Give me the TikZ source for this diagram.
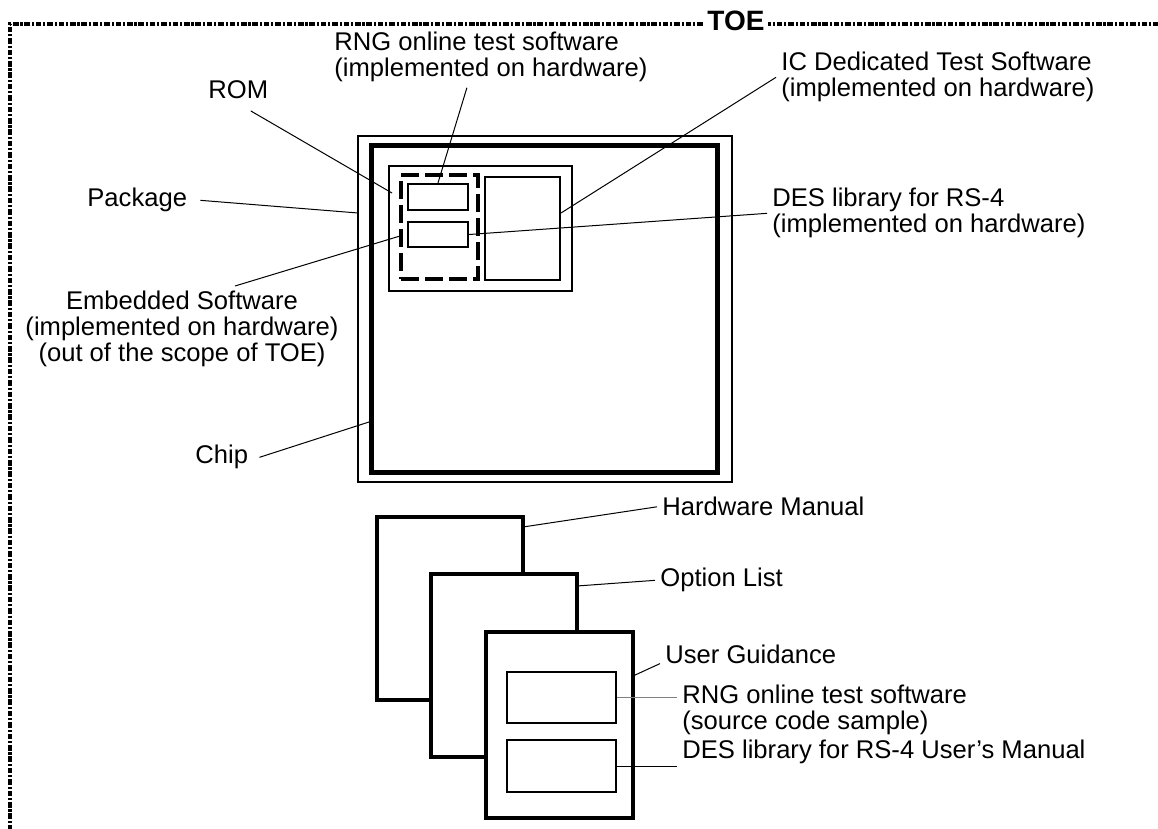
\documentclass[tikz,border=0pt]{standalone}
\usepackage{fontspec}
\setmainfont{Liberation Sans}
\usetikzlibrary{fit}

\tikzset{
  lbl/.style={inner sep=2.5pt, anchor=north west, align=left, font=\fontsize{12.8}{13}\selectfont},
  leader/.style={line width=0.5pt},
  part/.style={draw, inner sep=0pt},
  doc/.style={draw, fill=white, line width=2pt, inner sep=0pt}
}

\begin{document}
\begin{tikzpicture}[x=0.5pt,y=-0.5pt]
\useasboundingbox (0,0) rectangle (1158,829);
% TOE boundary
\draw[line width=1.7pt, dash pattern=on 2.8pt off 0.9pt on 1.1pt off 0.9pt] (1170,24) -- (10,24) -- (10,840);
\node[fill=white, inner sep=1.5pt, font=\fontsize{14}{14}\selectfont\bfseries] (toe) at (736,21) {TOE};

% package and chip
\node[part, line width=0.75pt, fit={(358,136) (732,482)}] (package) {};
\node[part, line width=2.5pt, fit={(371,146) (717,472)}] (chip) {};
\node[part, line width=1pt, fit={(389,166) (572,291)}] (rom) {};
\node[part, line width=1.7pt, dash pattern=on 9pt off 3pt, fit={(401,175) (478,279)}] (embsw) {};
\node[part, line width=1.1pt, fit={(408,184) (468,210)}] (rngsw) {};
\node[part, line width=1.1pt, fit={(408,222) (468,247)}] (deslib) {};
\node[part, line width=1.2pt, fit={(485,177) (560,280)}] (icsw) {};

\node[lbl] (rnghwlbl) at (329,27) {RNG online test software\\(implemented on hardware)};
\node[lbl] (romlbl) at (203,75) {ROM};
\node[lbl] (iclbl) at (776,47) {IC Dedicated Test Software\\(implemented on hardware)};
\node[lbl] (pkglbl) at (82,183) {Package};
\node[lbl] (deshwlbl) at (767,183) {DES library for RS-4\\(implemented on hardware)};
\node[lbl, anchor=north, align=center] (emblbl) at (182,286) {Embedded Software\\(implemented on hardware)\\(out of the scope of TOE)};
\node[lbl] (chiplbl) at (190,440) {Chip};

% documents
\node[doc, fit={(377,517) (523,700)}] (hwman) {};
\node[doc, fit={(431,574) (577,757)}] (optlist) {};
\node[doc, fit={(486,632) (633,818)}] (userguide) {};
\node[part, line width=1.1pt, fit={(507,672) (616,723)}] (rngsrc) {};
\node[part, line width=1.1pt, fit={(507,740) (616,792)}] (desman) {};

\node[lbl] (hwlbl) at (657,492) {Hardware Manual};
\node[lbl] (optlbl) at (655,563) {Option List};
\node[lbl] (uglbl) at (660,640) {User Guidance};
\node[lbl] (srclbl) at (677,680) {RNG online test software\\(source code sample)};
\node[lbl] (desmlbl) at (677,735) {DES library for RS-4 User’s Manual};

% leader lines
\coordinate (romtip) at (392,193);
\coordinate (pkgtip) at (358,213);
\coordinate (embtip) at (400,236);
\coordinate (chiptip) at (369,422);
\coordinate (ictip) at (561,213);
\coordinate (hwtip) at (523,527);
\coordinate (opttip) at (577,586);
\coordinate (ugtip) at (633,676);

\draw[leader] ([xshift=6.25pt,yshift=-3.5pt]romlbl.south) -- (romtip);
\draw[leader] ([xshift=-12pt]rnghwlbl.south) -- (rngsw.north);
\draw[leader] (iclbl.west) -- (ictip);
\draw[leader] ([xshift=4pt]pkglbl.east) -- (pkgtip);
\draw[leader] (deshwlbl.west) -- (deslib.east);
\draw[leader] ([xshift=26.5pt]emblbl.north) -- (embtip);
\draw[leader] ([xshift=3pt]chiplbl.east) -- (chiptip);
\draw[leader] (hwtip) -- (hwlbl.west);
\draw[leader] (opttip) -- (optlbl.west);
\draw[leader] (ugtip) -- ([yshift=3pt]uglbl.south west);
\draw[leader, gray] (rngsrc.east) -- (rngsrc.east -| srclbl.west);
\draw[leader] (desman.east) -- (desman.east -| desmlbl.west);
\end{tikzpicture}
\end{document}
